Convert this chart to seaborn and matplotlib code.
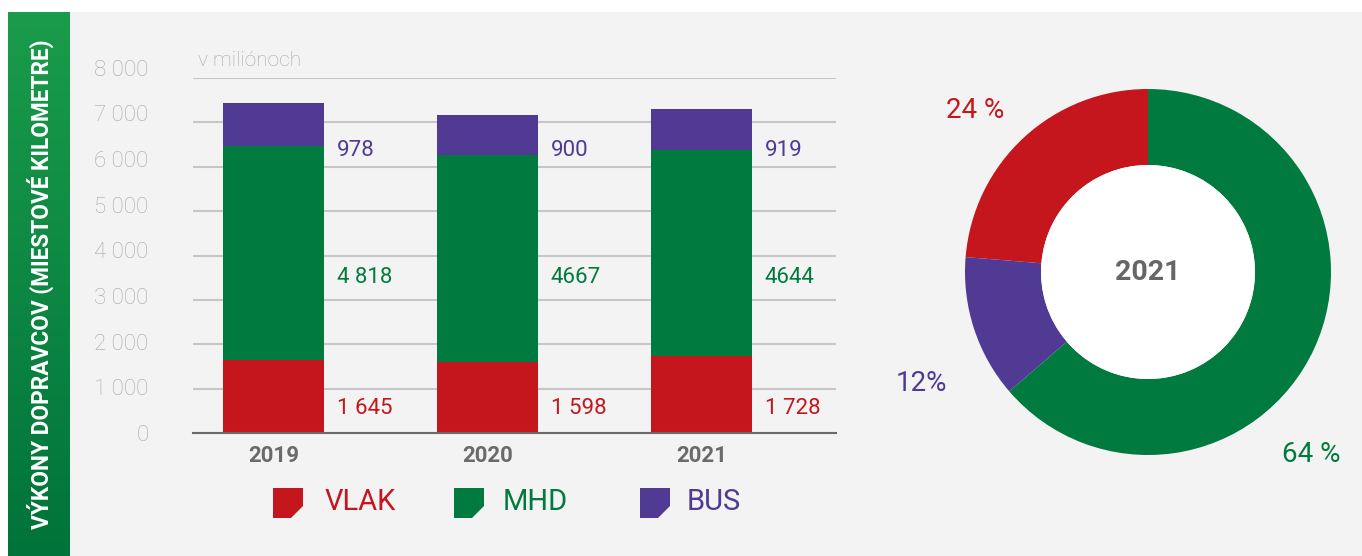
import numpy as np
import pandas as pd
import matplotlib
matplotlib.use("Agg")
import matplotlib.pyplot as plt
import seaborn as sns
from matplotlib.patches import Polygon, Rectangle, Circle
from matplotlib.colors import LinearSegmentedColormap
from matplotlib.transforms import ScaledTranslation

# ---------------- data ----------------
years = ["2019", "2020", "2021"]
vlak = [1645, 1598, 1728]
mhd = [4818, 4667, 4644]
bus = [978, 900, 919]
vlak_labels = ["1 645", "1 598", "1 728"]
mhd_labels = ["4 818", "4667", "4644"]
bus_labels = ["978", "900", "919"]
series_names = ["VLAK", "MHD", "BUS"]

pie_year = "2021"
pie_names = ["VLAK", "BUS", "MHD"]
pie_values = [1728, 919, 4644]
pie_labels = ["24 %", "12%", "64 %"]

yticks = [0, 1000, 2000, 3000, 4000, 5000, 6000, 7000, 8000]
ytick_labels = ["0", "1 000", "2 000", "3 000", "4 000", "5 000", "6 000", "7 000", "8 000"]

title_text = "VÝKONY DOPRAVCOV (MIESTOVÉ KILOMETRE)"
unit_text = "v miliónoch"

# ---------------- style ----------------
RED = "#c4161c"
GREEN = "#007a3e"
PURPLE = "#513a93"
colors = {"VLAK": RED, "MHD": GREEN, "BUS": PURPLE}

sns.set_style("white")
plt.rcParams["font.family"] = ["Roboto", "DejaVu Sans"]

W, H = 1362, 556
fig = plt.figure(figsize=(W / 100, H / 100), dpi=100, facecolor="white")

def fx(px):
    return px / W

def fy(py_top):
    return 1 - py_top / H

# background panel
fig.patches.append(Rectangle((fx(70), 0), 1 - fx(70), fy(12), transform=fig.transFigure,
                             facecolor="#f3f3f3", edgecolor="none", zorder=-10))

# green band with gradient
bax = fig.add_axes([fx(8), 0, fx(62), fy(12)])
grad = np.linspace(0, 1, 256).reshape(-1, 1)
cmap = LinearSegmentedColormap.from_list("g", ["#1a9c4b", "#00733a"])
bax.imshow(grad, aspect="auto", cmap=cmap, extent=[0, 1, 0, 1], origin="upper")
bax.set_axis_off()
bax.text(0.52, 0.5, title_text, rotation=90, ha="center", va="center", color="white",
         fontsize=16.3, fontweight="bold", transform=bax.transAxes)

# ---------------- stacked bars ----------------
ax = fig.add_axes([fx(193), 1 - 433 / H, fx(836) - fx(193), (433 - 78) / H])
ax.set_facecolor("none")

cum2 = [a + b for a, b in zip(vlak, mhd)]
total = [a + b for a, b in zip(cum2, bus)]
df = pd.DataFrame({"year": years, "VLAK": vlak, "cum2": cum2, "total": total})

bw = 0.472
sns.barplot(data=df, x="year", y="total", color=PURPLE, saturation=1, width=bw,
            linewidth=0, ax=ax, zorder=3)
sns.barplot(data=df, x="year", y="cum2", color=GREEN, saturation=1, width=bw,
            linewidth=0, ax=ax, zorder=3)
sns.barplot(data=df, x="year", y="VLAK", color=RED, saturation=1, width=bw,
            linewidth=0, ax=ax, zorder=3)

ax.set_ylim(0, 8000)
ax.set_xlim(-0.376, 2.628)
ax.set_xlabel("")
ax.set_ylabel("")
ax.set_yticks(yticks, ytick_labels)
ax.yaxis.grid(True, color="#c6c6c6", linewidth=1.5)
ax.set_axisbelow(True)
for s in ["top", "right", "left"]:
    ax.spines[s].set_visible(False)
ax.spines["bottom"].set_color("#6a6a6a")
ax.spines["bottom"].set_linewidth(1.5)
ax.spines["bottom"].set_zorder(4)
ax.tick_params(axis="y", length=0, pad=32, labelsize=16, labelcolor="#a8a8a8")
ax.tick_params(axis="x", length=0, pad=9, labelsize=16, labelcolor="#6a6a6a")
for t in ax.get_xticklabels():
    t.set_fontweight("bold")
for tk, v in zip(ax.yaxis.get_major_ticks(), yticks):
    tk.label1.set_fontweight("light")
    shift = ScaledTranslation(0, 0.013 * v / 1000, fig.dpi_scale_trans)
    tk.label1.set_transform(tk.label1.get_transform() + shift)

label_y = {"VLAK": 541, "MHD": 3515, "BUS": 6355}
for i in range(len(years)):
    for name, labs in zip(series_names, [vlak_labels, mhd_labels, bus_labels]):
        ax.text(i + bw / 2 + 0.06, label_y[name], labs[i], ha="left", va="center",
                color=colors[name], fontsize=16)

fig.text(fx(198), fy(60), unit_text, ha="left", va="center", color="#a8a8a8",
         fontsize=15, fontweight="light")

# ---------------- donut ----------------
R = 183
pax = fig.add_axes([fx(1148 - R), (H - 272 - R) / H, 2 * R / W, 2 * R / H])
pax.set_facecolor("none")
pax.pie(pie_values, colors=[colors[n] for n in pie_names], startangle=90, counterclock=True,
        wedgeprops=dict(width=1 - 107 / R, linewidth=0))
pax.add_patch(Circle((0, 0), 107 / R, facecolor="white", edgecolor="none", zorder=5))
pax.set_xlim(-1, 1)
pax.set_ylim(-1, 1)
pax.set_aspect("equal")
pax.text(0, 0, pie_year, ha="center", va="center", color="#666666", fontsize=20.5,
         fontweight="bold", zorder=6)
pie_label_pos = [(-0.945, 0.885), (-1.24, -0.607), (0.89, -1.0)]
for (x, y), lab, n in zip(pie_label_pos, pie_labels, pie_names):
    pax.text(x, y, lab, ha="center", va="center", color=colors[n], fontsize=20, clip_on=False)

# ---------------- legend ----------------
sq_x = [273, 454, 640]
txt_x = [325, 503, 687]
for name, x0, tx in zip(series_names, sq_x, txt_x):
    top, bot, s, cut = 488, 518, 30, 12
    pts = [(x0, top), (x0 + s, top), (x0 + s, bot - cut), (x0 + s - cut, bot), (x0, bot)]
    pts = [(fx(px), fy(py)) for px, py in pts]
    fig.patches.append(Polygon(pts, closed=True, transform=fig.transFigure,
                               facecolor=colors[name], edgecolor="none"))
    fig.text(fx(tx), fy(502), name, ha="left", va="center", color=colors[name], fontsize=21)

fig.savefig("out.png", dpi=100, facecolor="white")
